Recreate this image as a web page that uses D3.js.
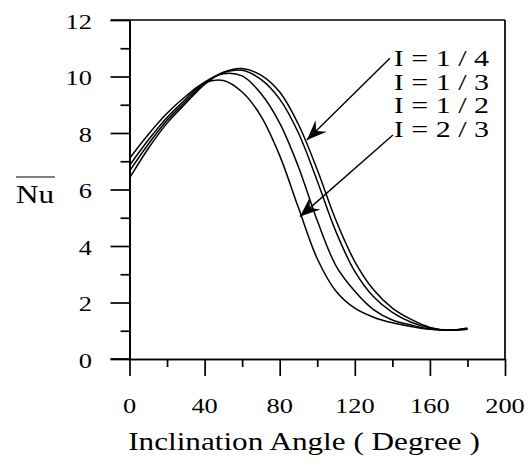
<!DOCTYPE html>
<html>
<head>
<meta charset="utf-8">
<script src="https://cdn.jsdelivr.net/npm/d3@7/dist/d3.min.js"></script>
<style>
  body { margin: 0; background: #fff; }
  text { font-family: "Liberation Serif", "Times New Roman", serif; fill: #000; }
  .axis path, .axis line { stroke: #000; stroke-width: 1.7; }
</style>
</head>
<body>
<svg id="chart" width="529" height="468"></svg>
<script>
// angles in degrees, shared by every curve
var angles = [0, 10, 20, 30, 40, 50, 60, 70, 80, 90, 100, 110, 120, 130, 140, 150, 160, 170, 180];

// average Nusselt number for each I
var nuQuarter = [6.4, 7.45, 8.35, 9.05, 9.72, 10.15, 10.28, 10.05, 9.45, 8.3, 6.7, 4.9, 3.45, 2.45, 1.8, 1.4, 1.12, 1.02, 1.1];
var nuThird   = [6.65, 7.6, 8.45, 9.12, 9.76, 10.14, 10.22, 9.9, 9.2, 8.0, 6.3, 4.5, 3.1, 2.2, 1.65, 1.3, 1.1, 1.02, 1.05];
var nuHalf    = [6.85, 7.75, 8.55, 9.2, 9.8, 10.1, 10.02, 9.4, 8.35, 6.8, 4.9, 3.3, 2.4, 1.75, 1.38, 1.2, 1.06, 1.02, 1.07];
var nuTwoThird= [7.1, 7.95, 8.7, 9.3, 9.78, 9.86, 9.45, 8.6, 7.2, 5.35, 3.55, 2.4, 1.8, 1.48, 1.28, 1.15, 1.05, 1.02, 1.05];

var legendLabels = ["I = 1 / 4", "I = 1 / 3", "I = 1 / 2", "I = 2 / 3"];

var xTicks = [0, 40, 80, 120, 160, 200];
var xMinor = [20, 60, 100, 140, 180];
var yTicks = [0, 2, 4, 6, 8, 10, 12];
var yMinor = [1, 3, 5, 7, 9, 11];

var svg = d3.select("#chart");
var padL = 129.5, padR = 505, padT = 20, padB = 359;

var x = d3.scaleLinear().domain([0, 200]).range([padL, padR]);
var y = d3.scaleLinear().domain([0, 12]).range([padB, padT]);

function label(px, py, str, size, anchor, sx) {
    svg.append("g")
        .attr("transform", "translate(" + px + "," + py + ") scale(" + (sx || 1.2) + ",1)")
        .append("text")
        .attr("font-size", size)
        .attr("text-anchor", anchor || "start")
        .text(str);
}

// frame: top and right
svg.append("line").attr("x1", padL - 19).attr("x2", padR).attr("y1", y(12)).attr("y2", y(12))
    .attr("stroke", "#000").attr("stroke-width", 1.7);
svg.append("line").attr("x1", padR).attr("x2", padR).attr("y1", y(12)).attr("y2", padB)
    .attr("stroke", "#000").attr("stroke-width", 1.7);

// axes (major + minor ticks)
svg.append("g").attr("class", "axis")
    .attr("transform", "translate(0," + padB + ")")
    .call(d3.axisBottom(x).tickValues(xTicks).tickSize(17).tickSizeOuter(0).tickFormat(""));
svg.append("g").attr("class", "axis")
    .attr("transform", "translate(0," + padB + ")")
    .call(d3.axisBottom(x).tickValues(xMinor).tickSize(8).tickSizeOuter(0).tickFormat(""));
svg.append("g").attr("class", "axis")
    .attr("transform", "translate(" + padL + ",0)")
    .call(d3.axisLeft(y).tickValues(yTicks).tickSize(19).tickSizeOuter(0).tickFormat(""));
svg.append("g").attr("class", "axis")
    .attr("transform", "translate(" + padL + ",0)")
    .call(d3.axisLeft(y).tickValues(yMinor).tickSize(9).tickSizeOuter(0).tickFormat(""));
// extend bottom axis line to the left tick
svg.append("line").attr("x1", padL - 19).attr("x2", padL).attr("y1", padB).attr("y2", padB)
    .attr("stroke", "#000").attr("stroke-width", 1.7);

// tick labels
xTicks.forEach(function(t) { label(x(t), 413, String(t), 22, "middle"); });
yTicks.forEach(function(t) { label(92, y(t) + 8.5, String(t), 22, "end"); });

// axis titles
label(304, 450, "Inclination Angle ( Degree )", 26, "middle");
label(16, 203, "Nu", 26, "start");
svg.append("line").attr("x1", 16).attr("x2", 55).attr("y1", 177).attr("y2", 177)
    .attr("stroke", "#000").attr("stroke-width", 1.2);

// curves
var line = d3.line()
    .x(function(d) { return x(d[0]); })
    .y(function(d) { return y(d[1]); })
    .curve(d3.curveCatmullRom.alpha(0.5));

[nuQuarter, nuThird, nuHalf, nuTwoThird].forEach(function(vals) {
    svg.append("path")
        .attr("d", line(d3.zip(angles, vals)))
        .attr("fill", "none")
        .attr("stroke", "#000")
        .attr("stroke-width", 1.5);
});

// legend
var legendY = [10.37, 9.53, 8.7, 7.86];
legendLabels.forEach(function(s, i) { label(x(140.8), y(legendY[i]), s, 24, "start", 1.25); });

// arrows
svg.append("defs").append("marker")
    .attr("id", "head")
    .attr("markerUnits", "userSpaceOnUse")
    .attr("viewBox", "-22 -9 24 18")
    .attr("markerWidth", 24).attr("markerHeight", 18)
    .attr("refX", 0).attr("refY", 0)
    .attr("orient", "auto")
    .append("path")
    .attr("d", "M0,0 L-20,-8 L-13,0 L-20,8 Z")
    .attr("fill", "#000");

var arrows = [
    { from: [138.7, 10.65], to: [94.5, 7.75] },
    { from: [140.3, 7.93], to: [90.8, 5.04] }
];
arrows.forEach(function(a) {
    svg.append("line")
        .attr("x1", x(a.from[0])).attr("y1", y(a.from[1]))
        .attr("x2", x(a.to[0])).attr("y2", y(a.to[1]))
        .attr("stroke", "#000").attr("stroke-width", 1.4)
        .attr("marker-end", "url(#head)");
});
</script>
</body>
</html>
